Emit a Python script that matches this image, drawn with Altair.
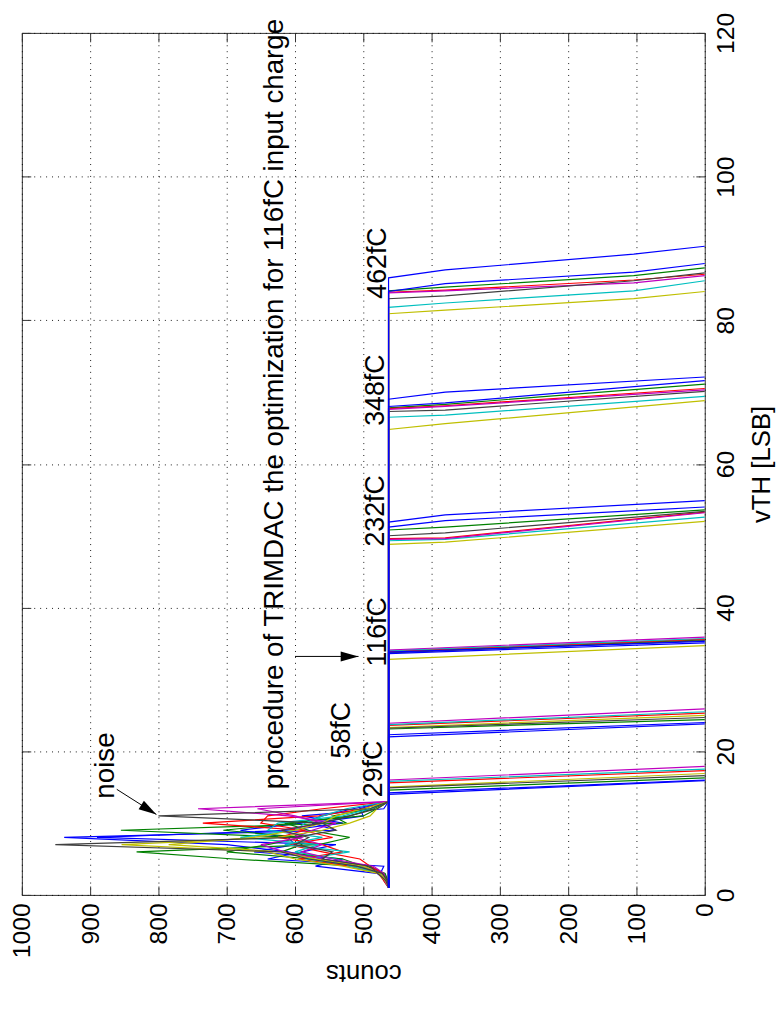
import altair as alt
import pandas as pd

# ---------------- axes ----------------
count_ticks = [0, 100, 200, 300, 400, 500, 600, 700, 800, 900, 1000]
vth_ticks = [0, 20, 40, 60, 80, 100, 120]

# MATLAB (old) default colour order
color_names = ["b", "g", "r", "c", "m", "y", "k"]
color_values = ["#0000FF", "#008000", "#FF0000", "#00BFBF", "#BF00BF", "#BFBF00", "#404040"]

PLATEAU = 463          # counts on the flat part of every S-curve
V_FIRST = 1            # first vTH sampled

# ---------------- noise region (vTH 1..13) ----------------
noise_vth = [1, 2, 3, 4, 5, 6, 7, 8, 9, 10, 11, 12, 13]
nz_b1 = [463, 465, 470, 490, 560, 610, 700, 938, 540, 575, 500, 505, 463]
nz_b2 = [463, 468, 475, 470, 640, 590, 540, 890, 610, 530, 590, 470, 463]
nz_b3 = [463, 466, 480, 570, 530, 660, 600, 610, 680, 590, 560, 515, 463]
nz_g1 = [463, 470, 472, 500, 530, 620, 590, 600, 855, 525, 545, 490, 463]
nz_g2 = [463, 465, 470, 510, 690, 832, 565, 520, 580, 615, 500, 480, 463]
nz_g3 = [463, 464, 468, 495, 575, 700, 640, 590, 705, 600, 520, 485, 463]
nz_r1 = [463, 466, 471, 490, 505, 560, 610, 545, 590, 735, 565, 500, 463]
nz_r2 = [463, 470, 478, 520, 595, 530, 560, 625, 585, 650, 640, 560, 463]
nz_c1 = [463, 467, 474, 505, 585, 520, 615, 560, 640, 625, 530, 490, 463]
nz_c2 = [463, 465, 476, 520, 540, 600, 565, 680, 600, 585, 560, 525, 463]
nz_m1 = [463, 466, 470, 485, 545, 590, 560, 600, 575, 540, 610, 742, 463]
nz_m2 = [463, 469, 473, 500, 560, 615, 650, 590, 620, 560, 600, 655, 463]
nz_y1 = [463, 468, 478, 530, 600, 640, 854, 625, 560, 520, 490, 480, 463]
nz_y2 = [463, 466, 475, 500, 570, 620, 785, 660, 600, 560, 540, 500, 463]
nz_k1 = [463, 465, 472, 510, 580, 620, 951, 600, 540, 560, 520, 480, 463]
nz_k2 = [463, 467, 479, 490, 560, 545, 600, 580, 620, 560, 800, 490, 463]
noise_traces = [("b", nz_b1), ("b", nz_b2), ("b", nz_b3), ("g", nz_g1), ("g", nz_g2),
                ("g", nz_g3), ("r", nz_r1), ("r", nz_r2), ("c", nz_c1), ("c", nz_c2),
                ("m", nz_m1), ("m", nz_m2), ("y", nz_y1), ("y", nz_y2), ("k", nz_k1),
                ("k", nz_k2)]

# ---------------- S-curve transitions, channels in this colour order ----------------
channel_colors = ["b", "b", "g", "r", "c", "m", "y", "k"]
KNEE_COUNT = 380
MID_COUNT = 104

q29_start = [14.0, 14.2, 14.6, 15.6, 15.8, 16.0, 15.0, 14.9]
q29_end = [15.9, 16.0, 16.3, 17.3, 17.5, 17.9, 16.9, 16.6]

q58_start = [22.0, 22.3, 23.1, 23.6, 23.7, 23.9, 23.3, 23.2]
q58_end = [23.8, 24.0, 24.4, 25.3, 25.5, 25.9, 25.0, 24.7]

q116_start = [33.6, 33.8, 33.8, 33.9, 34.0, 34.1, 32.8, 33.7]
q116_end = [35.1, 35.3, 35.5, 35.6, 35.7, 35.9, 34.7, 35.4]

q232_start = [51.9, 51.2, 50.8, 49.6, 49.3, 49.5, 48.8, 50.0]
q232_knee = [52.9, 52.1, 51.2, 49.7, 49.5, 49.6, 49.1, 50.4]
q232_end = [54.9, 54.0, 53.6, 53.3, 52.6, 53.2, 52.0, 53.4]

q348_start = [69.0, 68.0, 67.8, 67.7, 66.5, 67.6, 64.8, 67.3]
q348_knee = [70.0, 68.5, 68.3, 68.1, 66.8, 68.0, 65.6, 67.5]
q348_end = [72.1, 71.6, 71.1, 70.5, 69.4, 70.3, 68.8, 70.1]

q462_start = [85.9, 84.0, 84.1, 83.9, 81.8, 83.8, 80.9, 83.0]
q462_knee = [87.0, 85.1, 84.6, 84.2, 82.4, 84.1, 81.4, 83.4]
q462_mid = [89.2, 86.7, 86.2, 85.6, 84.1, 85.2, 83.0, 85.5]
q462_end = [90.3, 87.9, 87.3, 86.4, 85.5, 86.2, 84.0, 86.6]

groups = [
    ("29fC", q29_start, None, None, q29_end),
    ("58fC", q58_start, None, None, q58_end),
    ("116fC", q116_start, None, None, q116_end),
    ("232fC", q232_start, q232_knee, None, q232_end),
    ("348fC", q348_start, q348_knee, None, q348_end),
    ("462fC", q462_start, q462_knee, q462_mid, q462_end),
]

# ---------------- annotations ----------------
ann_text = ["noise", "procedure of TRIMDAC the optimization for 116fC input charge",
            "29fC", "58fC", "116fC", "232fC", "348fC", "462fC"]
ann_counts = [865, 617, 472, 520, 467, 470, 470, 467]
ann_vth = [13.4, 14.7, 13.6, 19.0, 31.8, 48.5, 65.3, 83.0]
ann_size = [28, 28, 27, 27, 27, 27, 27, 27]

arrow_counts_from = [861, 600]
arrow_vth_from = [14.7, 33.2]
arrow_counts_to = [803, 507]
arrow_vth_to = [11.2, 33.2]
arrow_angle = [32, 0]

# ---------------- build tables ----------------
rows_noise = []
for k, (col, vals) in enumerate(noise_traces):
    for i, (v, c) in enumerate(zip(noise_vth, vals)):
        rows_noise.append({"curve": f"n{k}", "col": col, "idx": i, "vth": v, "counts": c})
noise_df = pd.DataFrame(rows_noise)

curves = []
for gname, st, kn, md, en in groups:
    for ch in range(len(channel_colors)):
        pts = [(PLATEAU, V_FIRST), (PLATEAU, st[ch])]
        if kn is not None:
            pts.append((KNEE_COUNT, kn[ch]))
        if md is not None:
            pts.append((MID_COUNT, md[ch]))
        pts.append((0, en[ch]))
        curves.append((gname, ch, channel_colors[ch], pts))
# draw blue channels last (and the 462fC one on top) so the plateau line reads blue
curves.sort(key=lambda t: (t[2] == "b", t[0] == "462fC" and t[1] == 0))
rows_curve = []
for gname, ch, col, pts in curves:
    for i, (c, v) in enumerate(pts):
        rows_curve.append({"curve": f"{gname}_{ch}", "col": col, "idx": i, "vth": v, "counts": c})
curve_df = pd.DataFrame(rows_curve)

ann_df = pd.DataFrame({"t": ann_text, "counts": ann_counts, "vth": ann_vth, "fs": ann_size})
arrow_df = pd.DataFrame({"c1": arrow_counts_from, "v1": arrow_vth_from,
                         "c2": arrow_counts_to, "v2": arrow_vth_to, "ang": arrow_angle})

# ---------------- chart ----------------
FONT = "Liberation Sans"
FRAME = "#333333"
xs = alt.Scale(domain=[0, 1000], reverse=True, nice=False, zero=False)
ys = alt.Scale(domain=[0, 120], nice=False, zero=False)
cs = alt.Scale(domain=color_names, range=color_values)

grid_x = alt.Axis(orient="bottom", values=count_ticks, grid=True, ticks=False, labels=False,
                  domain=False, title=None, gridColor="#000000", gridDash=[1, 5],
                  gridOpacity=0.9, gridWidth=1)
grid_y = alt.Axis(orient="right", values=vth_ticks, grid=True, ticks=False, labels=False,
                  domain=False, title=None, gridColor="#000000", gridDash=[1, 5],
                  gridOpacity=0.9, gridWidth=1)

main_x = alt.Axis(orient="bottom", values=count_ticks, format="d", offset=-9, tickSize=9,
                  tickColor=FRAME, domain=False, grid=False, labelAngle=270, labelAlign="right",
                  labelBaseline="middle", labelPadding=8, labelFontSize=25, labelFont=FONT,
                  labelColor="black", labelFlush=False, labelOverlap=False,
                  title="counts", titleAngle=180, titleBaseline="alphabetic", titlePadding=7,
                  titleFontSize=26, titleFont=FONT, titleFontWeight="normal", titleColor="black")
main_y = alt.Axis(orient="right", values=vth_ticks, format="d", offset=-9, tickSize=9,
                  tickColor=FRAME, domain=False, grid=False, labelAngle=270, labelAlign="center",
                  labelBaseline="top", labelPadding=9, labelFontSize=25, labelFont=FONT,
                  labelColor="black", labelFlush=False, labelOverlap=False,
                  title="vTH [LSB]", titleAngle=270, titleBaseline="top", titlePadding=10,
                  titleFontSize=26, titleFont=FONT, titleFontWeight="normal", titleColor="black")

opp_x = alt.Axis(orient="top", values=count_ticks, offset=-9, tickSize=9, tickColor=FRAME,
                 domain=False, grid=False, labels=False, title=None)
opp_y = alt.Axis(orient="left", values=vth_ticks, offset=-9, tickSize=9, tickColor=FRAME,
                 domain=False, grid=False, labels=False, title=None)

noise_layer = alt.Chart(noise_df).mark_line(strokeWidth=1.2).encode(
    x=alt.X("counts:Q", scale=xs, axis=grid_x),
    y=alt.Y("vth:Q", scale=ys, axis=grid_y),
    color=alt.Color("col:N", scale=cs, legend=None),
    detail="curve:N",
    order="idx:Q",
)

curve_layer = alt.Chart(curve_df).mark_line(strokeWidth=1.2).encode(
    x=alt.X("counts:Q", scale=xs, axis=main_x),
    y=alt.Y("vth:Q", scale=ys, axis=main_y),
    color=alt.Color("col:N", scale=cs, legend=None),
    detail="curve:N",
    order="idx:Q",
)

text_layer = alt.Chart(ann_df).mark_text(angle=270, align="left", baseline="alphabetic",
                                         font=FONT, color="black").encode(
    x=alt.X("counts:Q", scale=xs, axis=opp_x),
    y=alt.Y("vth:Q", scale=ys, axis=opp_y),
    text="t:N",
    size=alt.Size("fs:Q", scale=None, legend=None),
)

rule_layer = alt.Chart(arrow_df).mark_rule(color="black", strokeWidth=1).encode(
    x=alt.X("c1:Q", scale=xs, axis=None),
    x2="c2:Q",
    y=alt.Y("v1:Q", scale=ys, axis=None),
    y2="v2:Q",
)

head_layer = alt.Chart(arrow_df).mark_point(shape="M0,0L-1,-0.28L-1,0.28Z", filled=True,
                                            color="black", opacity=1, size=1300).encode(
    x=alt.X("c2:Q", scale=xs, axis=None),
    y=alt.Y("v2:Q", scale=ys, axis=None),
    angle=alt.Angle("ang:Q", scale=None),
)

chart = alt.layer(noise_layer, curve_layer, text_layer, rule_layer, head_layer).resolve_axis(
    x="independent", y="independent"
).properties(
    width=690, height=871,
    autosize=alt.AutoSizeParams(type="none"),
    padding={"left": 14, "top": 20, "right": 72, "bottom": 100},
    background="white",
).configure_view(stroke=FRAME, strokeWidth=1)

chart.save("out.html", embed_options={"renderer": "svg", "actions": False})
